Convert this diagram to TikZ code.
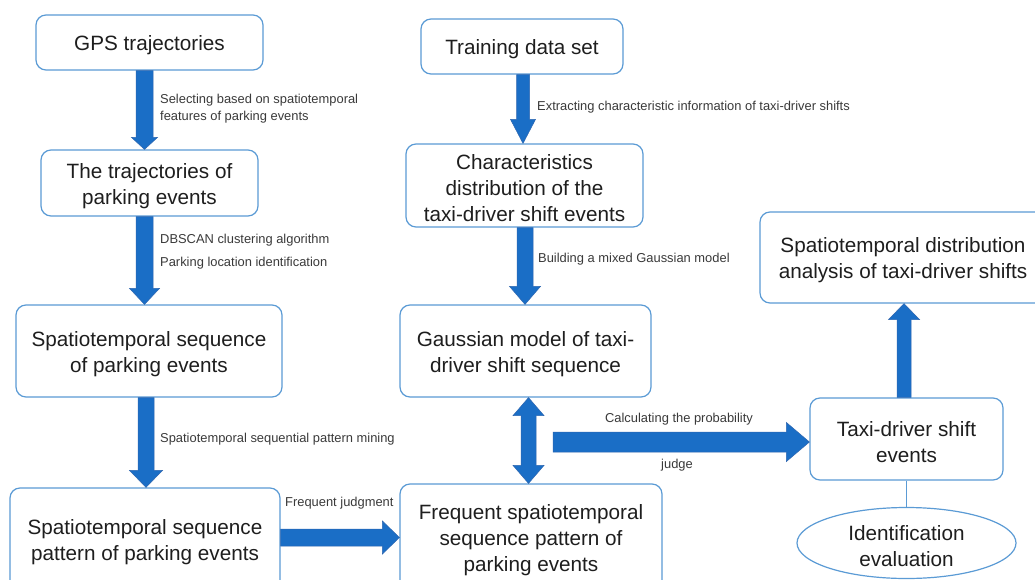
\documentclass[tikz,border=0pt]{standalone}
\usepackage{fontspec}
\setmainfont{Liberation Sans}
\usetikzlibrary{calc,shapes.geometric}
\definecolor{boxblue}{HTML}{5B9BD5}
\definecolor{arrowblue}{HTML}{1A6EC6}
\definecolor{arrowedge}{HTML}{2E66B0}
\definecolor{txt}{HTML}{1E1E1E}
\definecolor{lbltxt}{HTML}{3A3A3A}
\newcommand\tstrut{\rule{0pt}{20.5pt}}
\tikzset{
  box/.style={draw=boxblue, line width=1.2pt, rounded corners=10pt, fill=white, align=center,
    font=\fontsize{20.7}{26}\selectfont, text=txt, inner sep=0pt},
  oval/.style={draw=boxblue, line width=1.2pt, ellipse, fill=white, align=center,
    font=\fontsize{20.7}{26}\selectfont, text=txt, inner sep=0pt},
  lbl/.style={font=\fontsize{12.9}{17}\selectfont, text=lbltxt, inner sep=0pt, align=left},
  blk/.style={fill=arrowblue, draw=arrowedge, line width=0.5pt},
  conn/.style={draw=boxblue, line width=1.2pt}
}
% vertical down block arrow: from, to, x offset, half shaft, half head, head length
\newcommand\ArrDown[6]{\path[blk] let \p1=(#1), \p2=(#2) in
  ({\x1+(#3)-(#4)},{\y1}) -- ({\x1+(#3)+(#4)},{\y1}) -- ({\x1+(#3)+(#4)},{\y2+(#6)}) --
  ({\x1+(#3)+(#5)},{\y2+(#6)}) -- ({\x1+(#3)},{\y2}) -- ({\x1+(#3)-(#5)},{\y2+(#6)}) --
  ({\x1+(#3)-(#4)},{\y2+(#6)}) -- cycle;}
% vertical up block arrow
\newcommand\ArrUp[6]{\path[blk] let \p1=(#1), \p2=(#2) in
  ({\x1+(#3)-(#4)},{\y1}) -- ({\x1+(#3)+(#4)},{\y1}) -- ({\x1+(#3)+(#4)},{\y2-(#6)}) --
  ({\x1+(#3)+(#5)},{\y2-(#6)}) -- ({\x1+(#3)},{\y2}) -- ({\x1+(#3)-(#5)},{\y2-(#6)}) --
  ({\x1+(#3)-(#4)},{\y2-(#6)}) -- cycle;}
% horizontal right block arrow: from, to, y offset (canvas), half shaft, half head, head length
\newcommand\ArrRight[6]{\path[blk] let \p1=(#1), \p2=(#2) in
  ({\x1},{\y1+(#3)+(#4)}) -- ({\x2-(#6)},{\y1+(#3)+(#4)}) -- ({\x2-(#6)},{\y1+(#3)+(#5)}) --
  ({\x2},{\y1+(#3)}) -- ({\x2-(#6)},{\y1+(#3)-(#5)}) -- ({\x2-(#6)},{\y1+(#3)-(#4)}) --
  ({\x1},{\y1+(#3)-(#4)}) -- cycle;}
% vertical double block arrow (down direction from #1 to #2)
\newcommand\ArrBoth[6]{\path[blk] let \p1=(#1), \p2=(#2) in
  ({\x1+(#3)},{\y1}) -- ({\x1+(#3)+(#5)},{\y1-(#6)}) -- ({\x1+(#3)+(#4)},{\y1-(#6)}) --
  ({\x1+(#3)+(#4)},{\y2+(#6)}) -- ({\x1+(#3)+(#5)},{\y2+(#6)}) -- ({\x1+(#3)},{\y2}) --
  ({\x1+(#3)-(#5)},{\y2+(#6)}) -- ({\x1+(#3)-(#4)},{\y2+(#6)}) --
  ({\x1+(#3)-(#4)},{\y1-(#6)}) -- ({\x1+(#3)-(#5)},{\y1-(#6)}) -- cycle;}
\begin{document}
\begin{tikzpicture}[x=1pt,y=-1pt]
\useasboundingbox (0,0) rectangle (1035,580);
\fill[white] (0,0) rectangle (1035,580);

% left column
\node[box, minimum width=227pt, minimum height=55pt] (gps) at (149.5,42.5) {\tstrut GPS trajectories};
\node[box, minimum width=217pt, minimum height=66pt] (traj) at (149.5,183) {\tstrut The trajectories of\\parking events};
\node[box, minimum width=266pt, minimum height=92pt] (seq) at (149,351) {\tstrut Spatiotemporal sequence\\of parking events};
\node[box, minimum width=270pt, minimum height=102pt] (pat) at (145,539) {\tstrut Spatiotemporal sequence\\pattern of parking events};

% middle column
\node[box, minimum width=202pt, minimum height=55pt] (train) at (522,46.5) {\tstrut Training data set};
\node[box, minimum width=237pt, minimum height=83pt] (char) at (524.5,185.5) {\tstrut Characteristics\\distribution of the\\taxi-driver shift events};
\node[box, minimum width=251pt, minimum height=92pt] (gauss) at (525.5,351) {\tstrut Gaussian model of taxi-\\driver shift sequence};
\node[box, minimum width=262pt, minimum height=106pt] (freq) at (531,537) {\tstrut Frequent spatiotemporal\\sequence pattern of\\parking events};

% right column
\node[box, minimum width=286pt, minimum height=91pt] (dist) at (903,257.5) {\tstrut Spatiotemporal distribution\\analysis of taxi-driver shifts};
\node[box, minimum width=193pt, minimum height=82pt] (taxi) at (906.5,439) {\tstrut Taxi-driver shift\\events};
\node[oval, minimum width=219pt, minimum height=71pt] (ident) at (906.5,543) {\tstrut Identification\\evaluation};

% connectors
\ArrDown{gps.south}{traj.north}{-5pt}{8.5pt}{13pt}{12pt}
\ArrDown{traj.south}{seq.north}{-5pt}{8.5pt}{15pt}{16pt}
\ArrDown{seq.south}{pat.north}{-3pt}{8pt}{16.5pt}{17pt}
\ArrRight{pat.east}{freq.west}{1.5pt}{8.5pt}{16.5pt}{17pt}
\ArrDown{train.south}{char.north}{1pt}{6.5pt}{12.5pt}{24pt}
\ArrDown{char.south}{gauss.north}{0.5pt}{8pt}{15.5pt}{18pt}
\ArrBoth{gauss.south}{freq.north}{3pt}{7.5pt}{15.5pt}{18pt}
\coordinate (calcstart) at (553,442);
\ArrRight{calcstart}{taxi.west}{0pt}{10pt}{19.5pt}{23pt}
\ArrUp{taxi.north}{dist.south}{-2.5pt}{7pt}{15.5pt}{16pt}
\draw[conn] (taxi.south) -- (ident.north);

% labels
\node[lbl, anchor=west] (l1) at (160,108.5) {Selecting based on spatiotemporal\\features of parking events};
\node[lbl, anchor=west, align=left, font=\fontsize{12.9}{23}\selectfont] (l2) at (160,251.5) {DBSCAN clustering algorithm\\Parking location identification};
\node[lbl, anchor=west] (l3) at (160,439) {Spatiotemporal sequential pattern mining};
\node[lbl, anchor=west] (l4) at (285,503) {Frequent judgment};
\node[lbl, anchor=west] (l5) at (537,107) {Extracting characteristic information of taxi-driver shifts};
\node[lbl, anchor=west] (l6) at (538,259) {Building a mixed Gaussian model};
\node[lbl] (l7) at (679,419) {Calculating the probability};
\node[lbl] (l8) at (677,465) {judge};
\end{tikzpicture}
\end{document}
